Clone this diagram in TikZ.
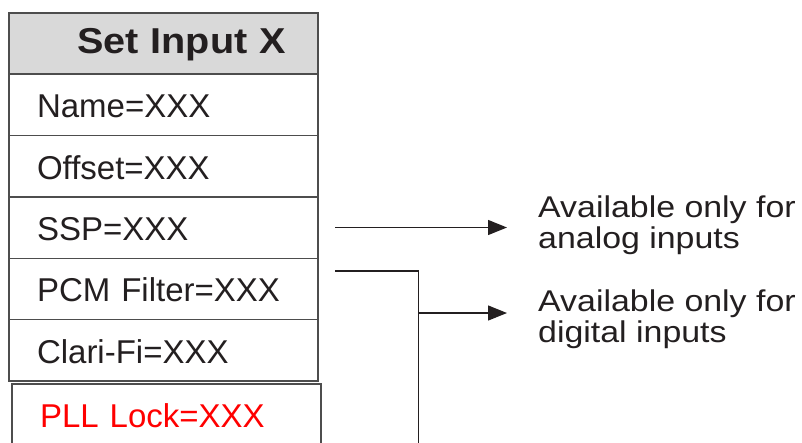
\documentclass[tikz,border=0pt]{standalone}
\usepackage{fontspec}
\setmainfont{Liberation Sans}
\newfontfamily\titlefont[FakeStretch=1.1]{Liberation Sans}
\newfontfamily\notefont[FakeStretch=1.13]{Liberation Sans}
\usetikzlibrary{arrows.meta,positioning}
\definecolor{boxline}{HTML}{4D4D4D}
\definecolor{headgray}{HTML}{D9D9D9}
\definecolor{inktext}{HTML}{231F20}
\definecolor{locked}{HTML}{FF0000}
\tikzset{
  rowbox/.style={draw=boxline, line width=1.4pt, anchor=north west, outer sep=0pt,
    minimum width=309pt, minimum height=61.4pt, inner xsep=28pt, inner ysep=0pt,
    text width=253pt, align=left, text height=26pt, text depth=0pt,
    font=\fontsize{33}{40}\selectfont, text=inktext},
  headbox/.style={rowbox, fill=headgray, minimum height=61pt, inner xsep=32pt,
    text width=245pt, align=right, text height=19pt,
    font=\titlefont\bfseries\fontsize{36}{42}\selectfont},
  notetext/.style={anchor=west, inner sep=0pt, align=left, text=inktext,
    font=\notefont\fontsize{30}{31}\selectfont},
  pointer/.style={draw=inktext, line width=1.3pt, -{Triangle[length=19pt,width=15pt]}},
  feed/.style={draw=inktext, line width=1.3pt}
}
\begin{document}
\begin{tikzpicture}[x=1pt,y=-1pt]
\useasboundingbox (0,0) rectangle (802,442);
\clip (0,0) rectangle (802,442);
% menu
\node[headbox] (title) at (9,13) {Set Input X};
\node[rowbox] (name) at (title.south west) {Name=XXX};
\node[rowbox] (offset) at (name.south west) {Offset=XXX};
\node[rowbox] (ssp) at (offset.south west) {SSP=XXX};
\node[rowbox] (pcm) at (ssp.south west) {PCM Filter=XXX};
\node[rowbox] (clarifi) at (pcm.south west) {Clari-Fi=XXX};
\node[rowbox, text=locked] (pll) at (12,384) {PLL Lock=XXX};
% notes
\node[notetext] (analog) at (538,225) {Available only for\\analog inputs};
\node[notetext] (digital) at (538,319.7) {Available only for\\digital inputs};
% arrows
\coordinate (sspout) at ([xshift=17pt]ssp.east);
\draw[pointer] (sspout) -- ([xshift=-31pt]sspout -| analog.west);
\coordinate (pcmout) at ([shift={(17,12.7)}]pcm.north east);
\coordinate (busend) at (418.7,450);
\coordinate (digtip) at (507,313);
\draw[feed] (pcmout) -| (busend);
\draw[pointer] (busend |- digtip) -- (digtip);
\end{tikzpicture}
\end{document}
